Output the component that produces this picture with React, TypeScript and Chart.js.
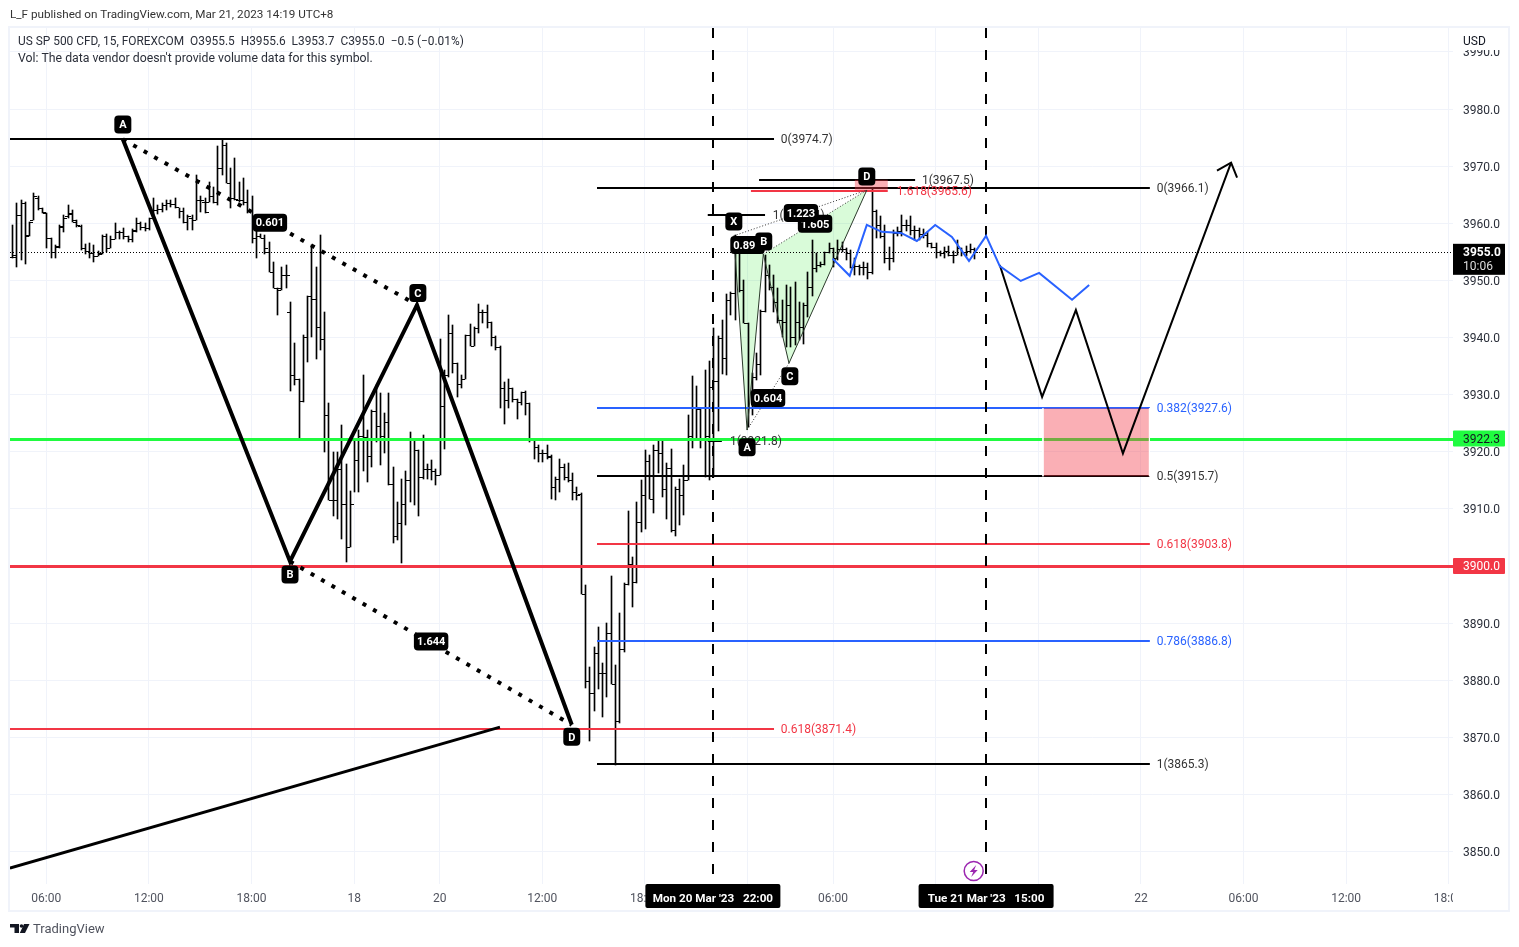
import React, { useEffect, useRef } from "react";
import { Chart, registerables } from "chart.js";

Chart.register(...registerables);

const FONT = "Roboto, 'Noto Sans', sans-serif";

// ---------- OHLC series (15 minute bars, bar index = position in the arrays) ----------
const opens = [
  3954.1,3954.4,3961.5,3963.5,3957.9,3960.5,3964.4,3962.6,3961.8,3957.4,
  3955,3956.1,3959.5,3961.2,3961.8,3960.3,3959.5,3955.6,3955.2,3954.8,
  3954.3,3954.8,3957.8,3955.6,3957.2,3958.5,3958.5,3957.7,3957.2,3958.8,
  3960,3959.3,3959.1,3960.9,3962.3,3962.5,3963.2,3963.6,3963.4,3962.8,
  3962.2,3960.3,3960.9,3960.6,3964.1,3963.8,3963.8,3964.7,3963.8,3969.6,
  3973.7,3967.1,3964.4,3964,3964.1,3963.8,3962.3,3957.4,3957.8,3957.5,
  3955,3951.5,3948.6,3948.6,3951,3944.5,3933.4,3932.8,3928.8,3940.1,
  3947.2,3946.7,3941.8,3939.8,3926.4,3911.6,3911.6,3916.9,3910.9,3903.3,
  3910.9,3918.5,3922.7,3922.6,3919.2,3927.2,3924.5,3922.7,3925.2,3914.4,
  3905.3,3907.5,3910.9,3915,3922.1,3920.3,3915.6,3916.9,3917,3916.7,
  3915.9,3928,3933.4,3940.8,3935.5,3931.9,3932.8,3940.4,3938.5,3941.6,
  3944.5,3944.5,3942.8,3940.1,3938.4,3931.1,3929,3931.1,3929.3,3928.7,
  3930.5,3928.6,3922.3,3920.9,3919.7,3919.7,3919,3913.9,3915.3,3917.3,
  3915.6,3915,3912.9,3912.6,3895.1,3879.9,3877.7,3884.7,3881.2,3881.2,
  3888.2,3879.3,3872.8,3885.5,3896.9,3900.4,3897.2,3907.7,3912.4,3918.4,
  3911.8,3920.3,3919.7,3913.4,3917.2,3906.3,3913.5,3912.4,3915,3922.7,
  3927.6,3927.4,3922.3,3922.7,3931.4,3932.3,3939.9,3936.4,3946.6,3947.8,
  3955,3948.3,3942.5,3927.6,3933.1,3935.3,3944.7,3951,3948.9,3946.3,
  3943.1,3942.8,3945.7,3940.1,3942.8,3941.9,3945.7,3948.8,3952.1,3952.7,
  3952.9,3955,3955.6,3953.9,3955.5,3955.5,3954.8,3952.4,3952.5,3952.3,
  3952.3,3951.5,3962.1,3959.7,3957.7,3953.9,3953.9,3958.3,3958.7,3959.7,
  3959.7,3958.9,3958.9,3958.2,3958,3956.5,3955.8,3954.9,3954.8,3955.2,
  3954.5,3954.5,3955.6,3954.9,3955.2,3955.5,
];
const highs = [
  3959.7,3963.5,3964.1,3963.8,3960.3,3965.3,3964.7,3962.6,3961.8,3957.5,
  3956.2,3959.7,3961.5,3963.2,3962.3,3960.5,3959.7,3956.4,3956.5,3956.2,
  3955.2,3958,3958.1,3957.7,3960,3958.7,3959.2,3957.8,3959,3960.9,
  3960.3,3960,3961,3964.4,3963.2,3963.5,3964.1,3964,3964.4,3962.6,
  3962.6,3961.5,3961.5,3968.5,3964.7,3964.4,3967.3,3966.4,3973.5,3974.6,
  3974,3969.6,3971.4,3967.3,3967.9,3965.8,3964.7,3958.8,3958.2,3957.9,
  3956.8,3953.3,3948.6,3952.4,3952.7,3946.3,3939,3932.8,3940.4,3947.2,
  3956.2,3952.4,3958,3944.5,3928.5,3920,3920,3924.6,3917.9,3913.2,
  3922,3923.8,3933.4,3923.8,3927.3,3931.7,3930.2,3926.7,3930.2,3917.3,
  3911.2,3915.3,3916.7,3923.5,3922.3,3920.3,3922.9,3917.9,3918.5,3917,
  3939.7,3934.3,3943.9,3942.2,3935.5,3933.4,3940.4,3942.4,3941.9,3945.9,
  3944.9,3945.7,3942.8,3940.2,3938.5,3932.2,3932.8,3931.1,3929.3,3930.5,
  3930.7,3928.6,3922.3,3921.1,3920.3,3921.1,3919.4,3915.6,3918.8,3917.9,
  3918,3916.2,3913.9,3912.7,3896.6,3882.3,3885.8,3889.3,3883.1,3890.1,
  3898.3,3882.7,3891.7,3897,3909.7,3901.5,3911.2,3915,3920.3,3919.4,
  3921.1,3922.3,3922,3918,3920.4,3913.8,3915.3,3917.6,3926.4,3933.2,
  3931.5,3927.4,3934.3,3935.8,3941.6,3940.2,3943.1,3947.7,3948,3958,
  3955.3,3950.1,3942.5,3933.7,3937.2,3944.8,3954.5,3952.7,3950.9,3948.6,
  3946.6,3949.2,3948.9,3949.8,3946.3,3946,3951.5,3957.1,3954.8,3953.3,
  3955,3956.5,3955.6,3957.1,3956.8,3955.6,3955.3,3953.9,3952.7,3953.3,
  3953,3966,3962.4,3961.2,3959.7,3955.8,3958.9,3959.4,3961.5,3960.6,
  3961.3,3959.6,3959.2,3959,3958.4,3956.5,3956.5,3955.2,3955.8,3956,
  3955.1,3957.1,3955.6,3956,3956.4,3955.6,
];
const lows = [
  3953.9,3952.3,3953.6,3952.9,3957.7,3960.5,3962.3,3961.8,3955.6,3954,
  3954,3955.6,3958.5,3961,3960.3,3959.4,3955.4,3954.6,3954,3953.3,
  3954.3,3954.7,3955,3955.6,3957.2,3957.2,3957.2,3956.8,3956.8,3958.5,
  3958.8,3958.7,3958.9,3960.7,3961.7,3961.9,3962.3,3962.8,3962.6,3961,
  3960,3958.8,3958.8,3960.6,3962,3961.8,3963.8,3963.5,3963.2,3968.5,
  3967.1,3962.6,3964.1,3963.8,3963.2,3961.8,3956.5,3953.9,3957.4,3954.7,
  3951.5,3948.6,3943.9,3948.3,3948.6,3930.7,3931.7,3922.2,3928.7,3935.7,
  3940.1,3936.3,3937.8,3920,3911.5,3908.8,3908.3,3904.8,3900.7,3903.3,
  3912.9,3912.9,3916.7,3914.7,3917.3,3921.7,3917.6,3919.7,3914.1,3904,
  3904.5,3900.5,3907.1,3911.2,3910.6,3908.8,3915.3,3915.3,3915,3914.1,
  3915.9,3920.5,3933.1,3933.7,3929.5,3931.1,3932.8,3938.5,3938.5,3940.7,
  3942.5,3941.6,3938.5,3937.8,3927.6,3924.8,3927.6,3928.7,3925.8,3928.1,
  3926.5,3921.7,3918.8,3918.2,3918.2,3918.8,3911.8,3911.6,3912.9,3915,
  3914.7,3911.6,3911.6,3895.1,3878.7,3869.4,3874.6,3878.5,3873.5,3877.1,
  3879.3,3865.2,3872.6,3884.9,3896.6,3892.8,3897,3905.9,3906.5,3911.8,
  3909.3,3916.3,3912.1,3908.3,3905.9,3905.3,3907.1,3908.9,3915,3920.6,
  3922,3920.6,3915.5,3915.1,3915.6,3923.6,3933.6,3933.4,3944,3943,
  3948,3942.5,3924.4,3926.4,3932.5,3933.4,3944.5,3948.3,3944.5,3942.5,
  3940.1,3938.4,3938.4,3938.7,3939.6,3938.9,3943.6,3947.2,3951.5,3952.4,
  3952.7,3954.8,3952.4,3953.6,3955,3953.6,3952.1,3950.9,3950.9,3950.9,
  3950.2,3951.2,3957.4,3957.4,3953,3951.8,3953.3,3957.7,3957.7,3958.6,
  3958,3957.1,3957.1,3957.4,3955.8,3955.6,3954,3954.2,3954,3954.2,
  3953.1,3954.4,3954.2,3954.2,3954.8,3953.7,
];
const closes = [
  3954.1,3961.5,3963.6,3957.7,3960.3,3964.7,3962.6,3961.9,3957.4,3955,
  3955.9,3959.4,3961,3961.6,3960.6,3959.7,3955.6,3955.2,3954.8,3954.3,
  3954.6,3957.7,3955.6,3957.2,3958.5,3958.5,3957.7,3957.2,3958.7,3960,
  3959.3,3959.1,3960.9,3962.3,3962.5,3963.2,3963.6,3963.4,3962.8,3962.2,
  3960.3,3961.3,3960.6,3967.6,3964.1,3962,3964.7,3963.8,3969.6,3973.7,
  3967.1,3964.4,3964.2,3964,3963.8,3962.3,3957.4,3957.7,3957.4,3955.6,
  3951.5,3948.6,3948.3,3951,3951,3933.4,3932.8,3928.8,3940.1,3947.2,
  3946.7,3941.8,3939.8,3926.4,3911.6,3911.6,3916.9,3910.9,3903.3,3910.9,
  3918.5,3922.7,3922.6,3919.2,3927.2,3924.5,3922.7,3925.2,3914.4,3905.3,
  3907.5,3910.9,3915,3922.1,3920.3,3915.6,3916.9,3917,3916.7,3915.9,
  3928,3933.4,3940.8,3935.5,3931.9,3932.8,3940.4,3938.5,3941.6,3944.5,
  3944.5,3942.8,3940.1,3938.4,3931.1,3929,3931.1,3929.3,3928.7,3930.5,
  3928.6,3922.3,3920.9,3919.7,3919.7,3919.2,3913.9,3915.3,3917.3,3915.6,
  3915,3912.9,3912.4,3895.1,3879.9,3877.7,3884.7,3881.2,3881.2,3888.2,
  3879.3,3872.8,3885.5,3896.9,3900.4,3897.2,3907.7,3912.4,3918.4,3911.8,
  3920.3,3919.7,3913.4,3917.2,3906.3,3913.5,3912.4,3915,3922.7,3927.6,
  3927.4,3922.3,3922.7,3931.4,3932.3,3939.9,3936.4,3946.6,3947.8,3955,
  3948.3,3942.5,3927.6,3933.1,3935.3,3944.7,3951,3948.9,3946.3,3943.1,
  3942.8,3945.7,3940.1,3942.8,3941.9,3945.7,3948.8,3952.1,3952.7,3952.9,
  3955,3955.6,3953.9,3955.5,3955.5,3954.8,3952.4,3952.5,3952.3,3952.3,
  3951.5,3962.1,3959.7,3957.7,3953.9,3953.9,3958.3,3958.7,3959.7,3959.7,
  3958.9,3958.9,3958.2,3958,3956.5,3955.8,3954.9,3954.8,3955.2,3954.5,
  3954.5,3955.6,3954.9,3955.2,3955.5,3955,
];

// ---------- axes ----------
const X_MIN = -0.49;
const X_MAX = 337;
const Y_MIN = 3844.33;
const Y_MAX = 3994.18;
const timeTickBars = [8, 32, 56, 80, 100, 124, 148, 172, 192, 216, 240, 264, 288, 312, 336];
const timeTickLabels = ["06:00","12:00","18:00","18","20","12:00","18:00","21","06:00","12:00","18:00","22","06:00","12:00","18:00"];

// ---------- horizontal levels ----------
const lastPrice = 3955.0;
const supportPrice = 3922.3;
const resistancePrice = 3900.0;

const BLACK = "#000000";
const RED = "#f23645";
const BLUE = "#2962ff";
const fibLeftBars = [X_MIN, 178.2];
const fibLeftLevels: [string, number, string][] = [["0", 3974.7, BLACK], ["0.618", 3871.4, RED]];
const fibMainBars = [136.8, 266.1];
const fibMainLevels: [string, number, string][] = [
  ["0", 3966.1, BLACK], ["0.382", 3927.6, BLUE], ["0.5", 3915.7, BLACK],
  ["0.618", 3903.8, RED], ["0.786", 3886.8, BLUE], ["1", 3865.3, BLACK],
];
// label, price, colour, first bar, last bar, bar where the text starts
const fibSmallLevels: [string, number, string, number, number, number][] = [
  ["1", 3967.5, BLACK, 174.7, 211.2, 212.8],
  ["1.618", 3965.6, RED, 172.8, 204.8, 206.9],
  ["1", 3961.4, BLACK, 162.7, 176.1, 177.9],
  ["1", 3921.8, BLACK, 162.7, 166, 167.9],
];

// ---------- drawings ----------
const verticalBars = [163.9, 227.8];
const bigPattern: [number, number][] = [[25.9, 3974.7], [65, 3900.8], [94.7, 3945.7], [130.9, 3872.2]];
const trendLine: [number, number][] = [[-0.49, 3847.1], [114.1, 3871.8]];
const harmonicX: [number, number] = [168.8, 3957.8];
const harmonicA: [number, number] = [171.9, 3923.8];
const harmonicB: [number, number] = [175.7, 3954.6];
const harmonicC: [number, number] = [181.7, 3935.5];
const harmonicD: [number, number] = [199.9, 3965.8];
const blueForecast: [number, number][] = [
  [191.9, 3953.8], [195.9, 3950.8], [199.9, 3959.7], [203.4, 3958.5], [207.9, 3958.3],
  [211.6, 3956.9], [215.9, 3959.7], [219.8, 3957.6], [223.8, 3953.4], [227.8, 3957.8],
  [231.0, 3952.5], [235.9, 3949.9], [240.2, 3951.3], [247.9, 3946.6], [251.9, 3949.2],
];
const blackForecast: [number, number][] = [[231.0, 3952.7], [240.9, 3929.6], [248.8, 3944.8], [259.8, 3919.7], [285.1, 3970.6]];
const arrowHead: [number, number][] = [[281.8, 3969.2], [285.1, 3970.6], [286.5, 3968]];
const pinkZone = { x0: 241.1, x1: 266.0, top: 3927.6, bottom: 3915.7 };
const przBox = { x0: 197.1, x1: 204.8, top: 3967.6, bottom: 3965.8 };

// text, bar, price
const pills: [string, number, number][] = [
  ["A", 25.9, 3977.3], ["B", 65, 3898.5], ["C", 94.9, 3947.8], ["D", 130.9, 3870.1],
  ["0.601", 60.3, 3960.1], ["1.644", 98, 3886.8],
  ["0.895", 172, 3956.2], ["X", 168.8, 3960.3], ["A", 171.9, 3920.8], ["B", 175.8, 3956.8], ["C", 181.9, 3933.2],
  ["0.604", 176.8, 3929.4], ["1.605", 187.8, 3959.9], ["1.223", 184.5, 3961.8],
];
const przPill: [string, number, number] = ["D", 199.9, 3968.2];
const axisPills: [string, number][] = [["Mon 20 Mar '23   22:00", 163.9], ["Tue 21 Mar '23   15:00", 227.8]];
const fibLabelBar = { left: 179.8, main: 267.7 };
const flash = { bar: 224.9, price: 3846.6 };

const headerTitle = "L_F published on TradingView.com, Mar 21, 2023 14:19 UTC+8";
const legendLine = "US SP 500 CFD, 15, FOREXCOM  O3955.5  H3955.6  L3953.7  C3955.0  \u22120.5 (\u22120.01%)";
const volumeLine = "Vol: The data vendor doesn't provide volume data for this symbol.";

const pts = (list: [number, number][]) => list.map(([x, y]) => ({ x, y }));

function line(label: string, list: [number, number][], color: string, width: number, order: number, extra: any = {}) {
  return {
    type: "line", label, data: pts(list), borderColor: color, borderWidth: width, order,
    pointRadius: 0, tension: 0, fill: false, spanGaps: false, ...extra,
  };
}
function rectangle(label: string, r: { x0: number; x1: number; top: number; bottom: number }, color: string, order: number) {
  return line(label, [[r.x0, r.top], [r.x1, r.top], [r.x1, r.bottom], [r.x0, r.bottom]], "transparent", 0, order, {
    fill: "shape", backgroundColor: color,
  });
}
function roundRect(ctx: CanvasRenderingContext2D, x: number, y: number, w: number, h: number, r: number) {
  ctx.beginPath();
  ctx.roundRect(x, y, w, h, r);
}

function drawPill(chart: any, [text, bar, price]: [string, number, number]) {
  const { ctx, scales } = chart;
  const cx = scales.x.getPixelForValue(bar);
  const cy = scales.y.getPixelForValue(price);
  ctx.font = `bold 11px ${FONT}`;
  const w = Math.max(17, ctx.measureText(text).width + 6);
  ctx.fillStyle = "#000";
  roundRect(ctx, cx - w / 2, cy - 9, w, 18, 4);
  ctx.fill();
  ctx.fillStyle = "#fff";
  ctx.textAlign = "center";
  ctx.textBaseline = "middle";
  ctx.fillText(text, cx, cy + 1);
}

const overlayPlugin = {
  id: "overlay",
  beforeDraw(chart: any) {
    const { ctx } = chart;
    ctx.save();
    ctx.fillStyle = "#fff";
    ctx.fillRect(0, 0, chart.width, chart.height);
    ctx.strokeStyle = "#f0f3fa";
    ctx.lineWidth = 2;
    ctx.strokeRect(9, 27, 1500, 884);
    ctx.restore();
  },
  beforeDatasetDraw(chart: any, args: any) {
    const ds = chart.data.datasets[args.index];
    const meta = args.meta;
    if (ds.ohlcPart === "wick") {
      meta.data.forEach((el: any) => {
        el.x = Math.round(el.x) + 0.5;
        el.y = Math.round(el.y);
        el.base = Math.round(el.base);
      });
    } else if (ds.ohlcPart === "open" || ds.ohlcPart === "close") {
      const shift = ds.ohlcPart === "open" ? -1.5 : 2.5;
      meta.data.forEach((el: any) => {
        el.x = Math.round(el.x) + shift;
        el.y = Math.round(el.y) + 0.5;
      });
    } else if (ds.snap) {
      meta.data.forEach((el: any) => {
        if (ds.snap === "y") el.y = Math.round(el.y) + (ds.borderWidth % 2 ? 0.5 : 0);
        if (ds.snap === "x") el.x = Math.round(el.x) + (ds.borderWidth % 2 ? 0.5 : 0);
      });
    }
    if (ds.label === "PRZ box") {
      chart.ctx.save();
      drawPill(chart, przPill);
      chart.ctx.restore();
    }
  },
  afterDatasetsDraw(chart: any) {
    const { ctx, scales, chartArea } = chart;
    const X = (v: number) => scales.x.getPixelForValue(v);
    const Y = (v: number) => scales.y.getPixelForValue(v);
    ctx.save();
    ctx.beginPath();
    ctx.rect(chartArea.left, chartArea.top, chartArea.width, chartArea.height);
    ctx.clip();

    // fib labels
    ctx.font = `12px ${FONT}`;
    ctx.textAlign = "left";
    ctx.textBaseline = "middle";
    const label = (t: string, price: number, color: string, bar: number) => {
      ctx.fillStyle = color === BLACK ? "#333" : color;
      ctx.fillText(`${t}(${price.toFixed(1)})`, X(bar), Y(price) + 1);
    };
    fibLeftLevels.forEach(([t, p, c]) => label(t, p, c, fibLabelBar.left));
    fibMainLevels.forEach(([t, p, c]) => label(t, p, c, fibLabelBar.main));
    fibSmallLevels.forEach(([t, p, c, , , b]) => label(t, p, c, b));

    // pills
    pills.forEach((p) => drawPill(chart, p));

    // flash icon
    const fx = X(flash.bar), fy = Y(flash.price);
    ctx.beginPath();
    ctx.arc(fx, fy, 9.5, 0, Math.PI * 2);
    ctx.fillStyle = "#fff";
    ctx.fill();
    ctx.strokeStyle = "#9c27b0";
    ctx.lineWidth = 1.5;
    ctx.stroke();
    ctx.beginPath();
    ctx.moveTo(fx + 2.5, fy - 6);
    ctx.lineTo(fx - 4, fy + 1);
    ctx.lineTo(fx - 0.5, fy + 1);
    ctx.lineTo(fx - 2.5, fy + 6);
    ctx.lineTo(fx + 4, fy - 1);
    ctx.lineTo(fx + 0.5, fy - 1);
    ctx.closePath();
    ctx.fillStyle = "#9c27b0";
    ctx.fill();

    // legend
    ctx.fillStyle = "#2a2e39";
    ctx.textAlign = "left";
    ctx.textBaseline = "middle";
    ctx.font = `11.9px ${FONT}`;
    ctx.fillText(legendLine, 18, 42);
    ctx.font = `12.27px ${FONT}`;
    ctx.fillText(volumeLine, 18, 59);
    ctx.restore();
  },
  afterDraw(chart: any) {
    const { ctx, scales, chartArea } = chart;
    const X = (v: number) => scales.x.getPixelForValue(v);
    const Y = (v: number) => scales.y.getPixelForValue(v);
    const tagX = chartArea.right;
    const tagW = 52;
    ctx.save();

    // masks for clipped axis labels
    ctx.fillStyle = "#fff";
    ctx.fillRect(tagX, 28, 54, 22);
    ctx.fillRect(tagX, 885, 54, 25);

    ctx.font = `12px ${FONT}`;
    ctx.textAlign = "left";
    ctx.textBaseline = "middle";
    ctx.fillStyle = "#131722";
    ctx.fillText("USD", 1463, 41.5);
    ctx.fillStyle = "#333";
    ctx.font = `11.7px ${FONT}`;
    ctx.fillText(headerTitle, 10, 15.5);
    ctx.font = `12px ${FONT}`;

    // price tags
    const tag = (price: number, bg: string, fg: string) => {
      const y = Y(price);
      ctx.fillStyle = bg;
      roundRect(ctx, tagX, y - 8, tagW, 16, 1);
      ctx.fill();
      ctx.fillStyle = fg;
      ctx.textAlign = "left";
      ctx.font = `12px ${FONT}`;
      ctx.fillText(price.toFixed(1), 1463, y + 1);
    };
    tag(supportPrice, "#20fb40", "#131722");
    tag(resistancePrice, RED, "#ffffff");
    const ly = Y(lastPrice);
    ctx.fillStyle = "#000";
    ctx.fillRect(tagX, ly - 8, tagW, 31);
    ctx.fillStyle = "#fff";
    ctx.font = `bold 12px ${FONT}`;
    ctx.fillText(lastPrice.toFixed(1), 1463, ly + 1.5);
    ctx.fillStyle = "#ddd";
    ctx.font = `12px ${FONT}`;
    ctx.fillText("10:06", 1463, ly + 15);

    // time axis pills
    axisPills.forEach(([text, bar]) => {
      const cx = X(bar);
      ctx.font = `bold 11.7px ${FONT}`;
      const half = 67.5;
      ctx.fillStyle = "#000";
      roundRect(ctx, cx - half, chartArea.bottom, half * 2, 24, 2);
      ctx.fill();
      ctx.fillStyle = "#fff";
      ctx.textAlign = "center";
      ctx.fillText(text, cx, chartArea.bottom + 15);
    });

    // TradingView mark
    ctx.fillStyle = "#131722";
    ctx.fillRect(10, 924, 9, 3.5);
    ctx.fillRect(14.5, 924, 4.5, 9);
    ctx.beginPath();
    ctx.arc(21.5, 926, 1.8, 0, Math.PI * 2);
    ctx.fill();
    ctx.beginPath();
    ctx.moveTo(24, 924);
    ctx.lineTo(29.5, 924);
    ctx.lineTo(25, 933);
    ctx.lineTo(19.8, 933);
    ctx.closePath();
    ctx.fill();
    ctx.fillStyle = "#50535e";
    ctx.textAlign = "left";
    ctx.font = `13px ${FONT}`;
    ctx.fillText("TradingView", 33, 929.5);
    ctx.restore();
  },
};

export default function App() {
  const ref = useRef<HTMLCanvasElement>(null);
  useEffect(() => {
    if (!ref.current) return;
    const bars = opens.map((_, i) => i);
    const datasets: any[] = [
      line("XAB fill", [harmonicX, harmonicA, harmonicB], "transparent", 0, 60, { fill: "shape", backgroundColor: "rgba(0,230,0,0.15)" }),
      line("BCD fill", [harmonicB, harmonicC, harmonicD], "transparent", 0, 60, { fill: "shape", backgroundColor: "rgba(0,230,0,0.15)" }),
      { type: "bar", label: "High-Low", ohlcPart: "wick", order: 50, data: bars.map((i) => ({ x: i, y: [lows[i], highs[i]] })), backgroundColor: "#000", barThickness: 1, borderWidth: 0 },
      { type: "scatter", label: "Open", ohlcPart: "open", order: 50, data: bars.map((i) => ({ x: i, y: opens[i] })), pointStyle: "line", pointRadius: 1.5, pointBorderColor: "#000", pointBorderWidth: 1, showLine: false },
      { type: "scatter", label: "Close", ohlcPart: "close", order: 50, data: bars.map((i) => ({ x: i, y: closes[i] })), pointStyle: "line", pointRadius: 1.5, pointBorderColor: "#000", pointBorderWidth: 1, showLine: false },
      line("Last price", [[X_MIN, lastPrice], [X_MAX, lastPrice]], "#000", 1, 45, { borderDash: [1, 2], snap: "y" }),
      ...fibLeftLevels.map(([t, p, c]) => line(`Fib ${t}`, [[fibLeftBars[0], p], [fibLeftBars[1], p]], c, 2, 40, { snap: "y" })),
      ...fibMainLevels.map(([t, p, c]) => line(`Fib ${t}`, [[fibMainBars[0], p], [fibMainBars[1], p]], c, 2, 40, { snap: "y" })),
      ...fibSmallLevels.map(([t, p, c, a, b]) => line(`Fib ${t}`, [[a, p], [b, p]], c, 2, 40, { snap: "y" })),
      line("Support", [[X_MIN, supportPrice], [X_MAX, supportPrice]], "#20fb40", 3, 38, { snap: "y" }),
      line("Resistance", [[X_MIN, resistancePrice], [X_MAX, resistancePrice]], RED, 3, 38, { snap: "y" }),
      ...verticalBars.map((b, i) => line(`Session ${i}`, [[b, Y_MAX], [b, Y_MIN]], "#000", 2, 36, { borderDash: [10, 12], snap: "x" })),
      line("Trend", trendLine, "#000", 3, 30),
      line("ABCD", bigPattern, "#000", 4, 30),
      line("AC dots", [bigPattern[0], bigPattern[2]], "#000", 4, 30, { borderDash: [4, 8] }),
      line("BD dots", [bigPattern[1], bigPattern[3]], "#000", 4, 30, { borderDash: [4, 8] }),
      line("XABCD", [harmonicX, harmonicA, harmonicB, harmonicC, harmonicD], "#2b3a2b", 1, 28),
      line("XB dots", [harmonicX, harmonicB], "#333", 1, 28, { borderDash: [1, 2] }),
      line("XD dots", [harmonicX, harmonicD], "#333", 1, 28, { borderDash: [1, 2] }),
      line("BD harmonic dots", [harmonicB, harmonicD], "#333", 1, 28, { borderDash: [1, 2] }),
      line("AC harmonic dots", [harmonicA, harmonicC], "#333", 1, 28, { borderDash: [1, 2] }),
      rectangle("Pink zone", pinkZone, "rgba(242,54,69,0.4)", 25),
      line("Pink zone edge L", [[pinkZone.x0, pinkZone.top], [pinkZone.x0, pinkZone.bottom]], "#fff", 1, 24),
      line("Pink zone edge R", [[pinkZone.x1, pinkZone.top], [pinkZone.x1, pinkZone.bottom]], "#fff", 1, 24),
      line("Blue forecast", blueForecast, BLUE, 2, 20),
      line("Black forecast", blackForecast, "#000", 2, 20),
      line("Arrow head", arrowHead, "#000", 2, 20),
      rectangle("PRZ box", przBox, "rgba(242,54,69,0.4)", 10),
    ];

    const chart = new Chart(ref.current, {
      type: "line",
      data: { datasets },
      plugins: [overlayPlugin],
      options: {
        animation: false,
        responsive: false,
        devicePixelRatio: 1,
        events: [],
        layout: { padding: { left: 10, top: 28, right: 10, bottom: 35 } },
        plugins: { legend: { display: false }, tooltip: { enabled: false }, title: { display: false } },
        scales: {
          x: {
            type: "linear",
            min: X_MIN,
            max: X_MAX,
            offset: false,
            afterBuildTicks: (s: any) => { s.ticks = timeTickBars.map((value) => ({ value })); },
            afterFit: (s: any) => { s.height = 28; },
            grid: { color: "#f0f3fa", drawTicks: false, offset: false },
            border: { display: false },
            ticks: {
              autoSkip: false, maxRotation: 0, padding: 8, color: "#50535e",
              font: { family: FONT, size: 12 },
              callback: (v: any) => timeTickLabels[timeTickBars.indexOf(v)] ?? "",
            },
          },
          y: {
            type: "linear",
            position: "right",
            min: Y_MIN,
            max: Y_MAX,
            afterBuildTicks: (s: any) => {
              const t = [];
              for (let v = 3850; v <= 3990; v += 10) t.push({ value: v });
              s.ticks = t;
            },
            afterFit: (s: any) => { s.width = 56; },
            grid: { color: "#f0f3fa", drawTicks: false },
            border: { display: false },
            ticks: {
              padding: 10, color: "#2a2e39", crossAlign: "near", labelOffset: 1.5,
              font: { family: FONT, size: 12 },
              callback: (v: any) => Number(v).toFixed(1),
            },
          },
        },
      },
    } as any);
    return () => chart.destroy();
  }, []);
  return (
    <div style={{ position: "fixed", left: 0, top: 0, width: 1519, height: 947, background: "#fff" }}>
      <canvas ref={ref} width={1519} height={947} style={{ display: "block" }} />
    </div>
  );
}
